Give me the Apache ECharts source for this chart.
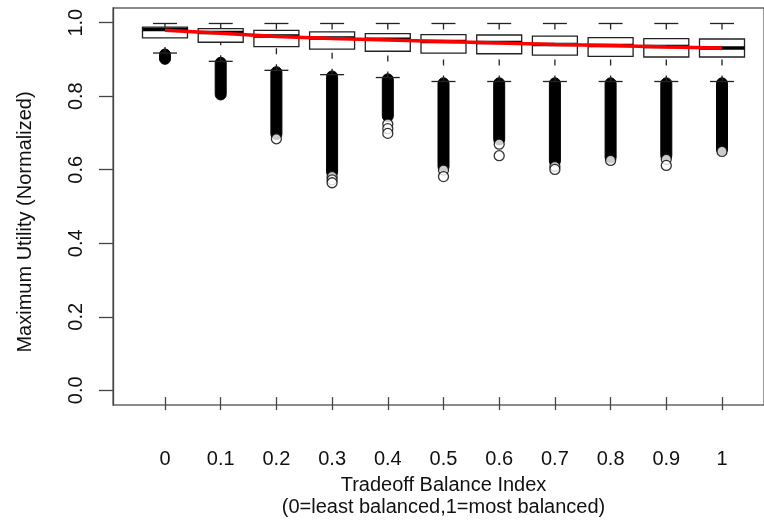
<!DOCTYPE html>
<html>
<head>
<meta charset="utf-8">
<script src="https://cdn.jsdelivr.net/npm/echarts@6/dist/echarts.min.js"></script>
<style>html,body{margin:0;padding:0;background:#fff}#c{width:764px;height:523px}</style>
</head>
<body>
<div id="c"></div>
<script>
const categories = ['0','0.1','0.2','0.3','0.4','0.5','0.6','0.7','0.8','0.9','1'];
const whiskerHigh = [0.997,0.997,0.997,0.997,0.997,0.997,0.997,0.997,0.997,0.997,0.997];
const q3 = [0.987,0.983,0.978,0.974,0.969,0.966,0.965,0.962,0.958,0.955,0.954];
const median = [0.980,0.972,0.962,0.957,0.953,0.947,0.944,0.939,0.936,0.933,0.929];
const q1 = [0.957,0.945,0.933,0.926,0.920,0.915,0.913,0.909,0.906,0.904,0.904];
const whiskerLow = [0.915,0.892,0.867,0.855,0.847,0.836,0.836,0.836,0.836,0.836,0.836];
const outlierBandTop = [0.911,0.888,0.862,0.850,0.842,0.831,0.831,0.831,0.831,0.831,0.831];
const outlierBandBottom = [0.899,0.800,0.690,0.585,0.740,0.600,0.675,0.615,0.625,0.630,0.648];
const sparseOutliers = [[],[],[0.677],[0.572,0.563,0.555],[0.718,0.705,0.692],[0.590,0.572],[0.662,0.630],[0.600,0.592],[0.617],[0.620,0.603],[0.642]];
const meanLine = [0.978,0.970,0.961,0.955,0.951,0.947,0.943,0.939,0.936,0.932,0.929];
const yTicks = [0,0.2,0.4,0.6,0.8,1.0];

const FONT = 'Liberation Sans, Arial, Helvetica, sans-serif';
const TXT = '#111';

const boxData = categories.map((c,i)=>[i, whiskerLow[i], q1[i], median[i], q3[i], whiskerHigh[i]]);
const bandData = categories.map((c,i)=>[i, outlierBandTop[i], outlierBandBottom[i]]);
const sparseData = [];
sparseOutliers.forEach((arr,i)=>arr.forEach(v=>sparseData.push([i,v])));

const chart = echarts.init(document.getElementById('c'), null, {renderer:'canvas'});
chart.setOption({
  animation:false,
  backgroundColor:'#fff',
  grid:[
    {left:113, top:8, right:-1, bottom:118, show:true, borderColor:'#666', borderWidth:1.3, backgroundColor:'transparent'},
    {left:137.15, top:8, right:14.15, bottom:118, show:false}
  ],
  xAxis:[
    {gridIndex:0, type:'value', show:false, min:0, max:1},
    {gridIndex:1, type:'category', data:categories, boundaryGap:true,
     axisLine:{show:false, onZero:false},
     axisTick:{show:true, alignWithLabel:true, length:13, lineStyle:{color:'#444', width:1.3}},
     axisLabel:{fontSize:20, color:TXT, fontFamily:FONT, margin:52},
     name:'Tradeoff Balance Index\n(0=least balanced,1=most balanced)',
     nameLocation:'middle', nameGap:73,
     nameTextStyle:{fontSize:20, color:TXT, fontFamily:FONT, lineHeight:22}
    }
  ],
  yAxis:[
    {gridIndex:0, type:'value', min:-0.04, max:1.04,
     axisLine:{show:true, onZero:false, lineStyle:{color:'#444', width:1.3}},
     axisTick:{show:true, length:14, customValues:yTicks, lineStyle:{color:'#444', width:1.3}},
     axisLabel:{show:true, customValues:yTicks, rotate:90, fontSize:20, color:TXT, fontFamily:FONT, margin:27,
                formatter:v=>Number(v).toFixed(1)},
     splitLine:{show:false}
    },
    {gridIndex:1, type:'value', min:-0.04, max:1.04, show:false, splitLine:{show:false}}
  ],
  graphic:[
    {type:'text', x:25, y:222, rotation:Math.PI/2,
     style:{text:'Maximum Utility (Normalized)', fontSize:20, fontFamily:FONT, fill:TXT, align:'center', verticalAlign:'middle'}}
  ],
  series:[
    {
      type:'custom', xAxisIndex:1, yAxisIndex:1, data:bandData, z:2,
      encode:{x:0, y:[1,2]},
      renderItem:(params, api)=>{
        const i = api.value(0);
        const t = api.coord([i, api.value(1)]);
        const b = api.coord([i, api.value(2)]);
        const r = 5.5;
        return {type:'rect', shape:{x:t[0]-r, y:t[1]-r, width:2*r, height:(b[1]-t[1])+2*r, r:r},
                style:{fill:'#000', stroke:'#000', lineWidth:1}};
      }
    },
    {
      type:'scatter', xAxisIndex:1, yAxisIndex:1, data:sparseData, z:3,
      symbol:'circle', symbolSize:10,
      itemStyle:{color:'#fff', borderColor:'#000', borderWidth:1.3}
    },
    {
      type:'custom', xAxisIndex:1, yAxisIndex:1, data:boxData, z:4,
      encode:{x:0, y:[1,2,3,4,5]},
      renderItem:(params, api)=>{
        const i = api.value(0);
        const lo = api.coord([i, api.value(1)]);
        const p1 = api.coord([i, api.value(2)]);
        const md = api.coord([i, api.value(3)]);
        const p3 = api.coord([i, api.value(4)]);
        const hi = api.coord([i, api.value(5)]);
        const x = lo[0];
        const hw = 22.5, cw = 12;
        const st = {stroke:'#222', lineWidth:1.3, fill:null};
        return {type:'group', children:[
          {type:'line', shape:{x1:x, y1:hi[1], x2:x, y2:p3[1]}, style:Object.assign({}, st, {lineDash:[6,10]})},
          {type:'line', shape:{x1:x, y1:lo[1], x2:x, y2:p1[1]}, style:Object.assign({}, st, {lineDash:[6,10]})},
          {type:'line', shape:{x1:x-cw, y1:hi[1], x2:x+cw, y2:hi[1]}, style:st},
          {type:'line', shape:{x1:x-cw, y1:lo[1], x2:x+cw, y2:lo[1]}, style:st},
          {type:'rect', shape:{x:x-hw, y:p3[1], width:2*hw, height:p1[1]-p3[1]}, style:{stroke:'#222', lineWidth:1.3, fill:'#fff'}},
          {type:'line', shape:{x1:x-hw, y1:md[1], x2:x+hw, y2:md[1]}, style:{stroke:'#000', lineWidth:3.5}}
        ]};
      }
    },
    {
      type:'line', xAxisIndex:1, yAxisIndex:1, data:meanLine, z:5,
      showSymbol:false, symbol:'none',
      lineStyle:{color:'#ff0000', width:3.5}
    }
  ]
});
</script>
</body>
</html>
